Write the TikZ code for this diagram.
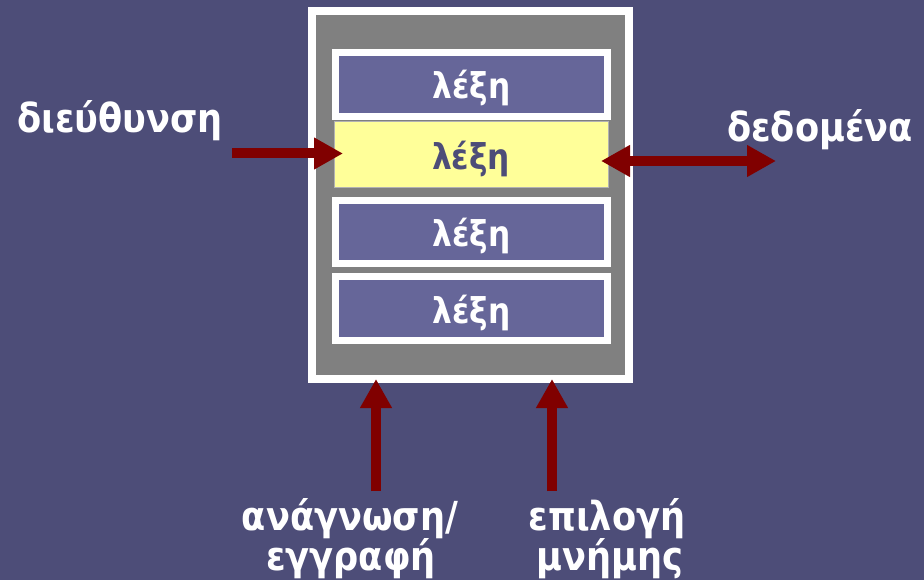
\documentclass[tikz,border=0pt]{standalone}
\usepackage{fontspec}
\setmainfont{DejaVu Sans}[FakeStretch=0.88]
\usetikzlibrary{arrows.meta}
\definecolor{bgblue}{RGB}{77,77,120}
\definecolor{wordblue}{RGB}{102,102,153}
\definecolor{memgray}{RGB}{128,128,128}
\definecolor{hiyellow}{RGB}{255,255,153}
\definecolor{arrowred}{RGB}{128,0,0}
\tikzset{
  membox/.style={draw=white, line width=8pt, fill=memgray},
  wordtext/.style={inner sep=0pt, text height=30pt, text depth=1pt,
    font=\bfseries\fontsize{35.5}{40}\selectfont},
  wordbox/.style={wordtext, draw=white, line width=7pt, fill=wordblue, text=white},
  selbox/.style={wordtext, draw=black!30, line width=1pt, fill=hiyellow, text=bgblue},
  lbl/.style={text=white, font=\bfseries\fontsize{40}{48}\selectfont, align=center, inner sep=0pt},
  bus/.style={draw=arrowred, line width=10pt, -{Triangle[length=29pt,width=30pt]}},
  dbus/.style={draw=arrowred, line width=10pt, {Triangle[length=29pt,width=30pt]}-{Triangle[length=29pt,width=30pt]}}
}
\begin{document}
\begin{tikzpicture}[x=1pt,y=-1pt]
  % background
  \fill[bgblue] (0,0) rectangle (924,580);
  \useasboundingbox (0,0) rectangle (924,580);

  % memory block
  \path[membox] (312,11) rectangle (629,379);
  \node[minimum width=317pt, minimum height=368pt, inner sep=0pt] (mem) at (470.5,195) {};

  % memory words
  \node[wordbox, minimum width=272pt, minimum height=64pt] (w1) at (471.5,84.5) {λέξη};
  \node[selbox, minimum width=274pt, minimum height=66pt] (w2) at (471,155) {λέξη};
  \node[wordbox, minimum width=272pt, minimum height=63pt] (w3) at (471.5,232) {λέξη};
  \node[wordbox, minimum width=272pt, minimum height=64pt] (w4) at (471.5,308.5) {λέξη};

  % labels
  \node[lbl, anchor=base] (addr) at (120,133) {διεύθυνση};
  \node[lbl, anchor=base] (data) at (820,142) {δεδομένα};
  \node[lbl, anchor=base] (rw) at (350,530) {ανάγνωση/};
  \node[lbl, anchor=base] (rw2) at (351,570) {εγγραφή};
  \node[lbl, anchor=base] (cs) at (607,530) {επιλογή};
  \node[lbl, anchor=base] (cs2) at (610,570) {μνήμης};

  % connector end points
  \coordinate (addrIn) at (232,153.5);
  \coordinate (addrTip) at (343,153.5);
  \coordinate (dataTip) at (601,161);
  \coordinate (dataOut) at (776,161);
  \coordinate (rwIn) at (376,491);
  \coordinate (rwTip) at (376,379);
  \coordinate (csIn) at (552,491);
  \coordinate (csTip) at (552,379);

  % buses
  \draw[bus] (addrIn) -- (addrTip);
  \draw[dbus] (dataTip) -- (dataOut);
  \draw[bus] (rwIn) -- (rwTip);
  \draw[bus] (csIn) -- (csTip);
\end{tikzpicture}
\end{document}
